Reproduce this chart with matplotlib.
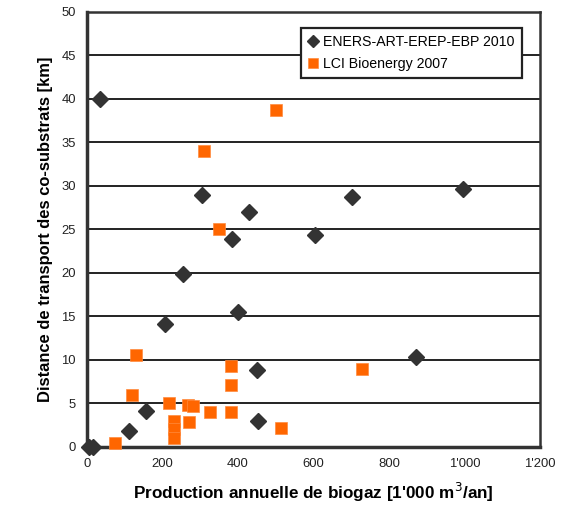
import matplotlib
matplotlib.use("Agg")
import matplotlib.pyplot as plt
from matplotlib.ticker import FuncFormatter
from matplotlib import font_manager

names = {f.name for f in font_manager.fontManager.ttflist}
narrow = 'Liberation Sans Narrow' in names
plt.rcParams['font.family'] = ['Liberation Sans Narrow' if narrow else 'Liberation Sans', 'DejaVu Sans']
k = 1.0 if narrow else 0.85

# ENERS-ART-EREP-EBP 2010
eners_x = [5, 15, 34, 111, 156, 207, 254, 305, 384, 400, 429, 450, 453, 604, 702, 871, 996]
eners_y = [0, 0, 40.0, 1.8, 4.1, 14.1, 19.9, 29.0, 23.9, 15.5, 27.0, 8.85, 3.0, 24.4, 28.7, 10.3, 29.7]

# LCI Bioenergy 2007
lci_x = [74, 119, 130, 217, 230, 230, 230, 267, 270, 281, 310, 326, 350, 381, 381, 381, 501, 514, 728]
lci_y = [0.5, 6.0, 10.6, 5.06, 3.0, 2.0, 1.0, 4.8, 2.9, 4.7, 34.0, 4.0, 25.0, 9.3, 7.1, 4.0, 38.7, 2.2, 9.0]

xticks = [0, 200, 400, 600, 800, 1000, 1200]
yticks = [0, 5, 10, 15, 20, 25, 30, 35, 40, 45, 50]

fig = plt.figure(figsize=(5.68, 5.19), dpi=100)
ax = fig.add_axes([0.153, 0.139, 0.798, 0.838])

ax.set_xlim(0, 1200)
ax.set_ylim(0, 50)
ax.set_xticks(xticks)
ax.set_yticks(yticks)
ax.xaxis.set_major_formatter(FuncFormatter(lambda v, p: f"{int(v):,}".replace(",", "'")))
ax.tick_params(length=0, labelsize=11 * k, colors='#222222', pad=8)

ax.yaxis.grid(True, color='#111111', linewidth=1.3)
ax.set_axisbelow(True)

for s in ['left', 'bottom']:
    ax.spines[s].set_linewidth(2.5)
    ax.spines[s].set_color('#333333')
for s in ['top', 'right']:
    ax.spines[s].set_linewidth(1.8)
    ax.spines[s].set_color('#333333')

ax.plot(eners_x, eners_y, linestyle='none', marker='D', markersize=8,
        color='#333333', label='ENERS-ART-EREP-EBP 2010', clip_on=False, zorder=3)
ax.plot(lci_x, lci_y, linestyle='none', marker='s', markersize=8.8,
        color='#FF6600', markeredgecolor='#FF8A3D', markeredgewidth=0.5,
        label='LCI Bioenergy 2007', clip_on=False, zorder=3)

ax.set_xlabel("Production annuelle de biogaz [1'000 m$^3$/an]", fontsize=14.5 * k,
              fontweight='bold', labelpad=8)
ax.set_ylabel("Distance de transport des co-substrats [km]", fontsize=14 * k,
              fontweight='bold', labelpad=6)

leg = ax.legend(loc='upper right', bbox_to_anchor=(0.975, 0.98), fontsize=12 * k,
                frameon=True, fancybox=False, handlelength=0.8, handletextpad=0.3,
                borderpad=0.5, labelspacing=0.6, markerscale=0.75)
leg.get_frame().set_edgecolor('#222222')
leg.get_frame().set_linewidth(1.6)
leg.get_frame().set_alpha(1)

fig.savefig('out.png', dpi=100)
